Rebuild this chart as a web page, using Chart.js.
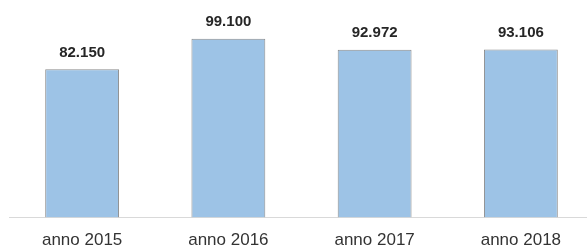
<!doctype html>
<meta charset="utf-8">
<style>
    html, body { margin: 0; padding: 0; overflow: hidden; background: #fff; }
    #wrap { width: 587px; height: 247px; overflow: hidden; }
</style>
<script src="https://cdn.jsdelivr.net/npm/chart.js@4/dist/chart.umd.min.js"></script>

<div id="wrap"><canvas id="chart" width="600" height="264"></canvas></div>

<script>
    const categories = ["anno 2015", "anno 2016", "anno 2017", "anno 2018"];
    const values = [82150, 99100, 92972, 93106];

    const fmt = v => String(v).replace(/\B(?=(\d{3})+(?!\d))/g, ".");

    // value labels above the bars
    const barLabels = {
        id: "barLabels",
        afterDatasetsDraw(chart) {
            const ctx = chart.ctx;
            ctx.save();
            ctx.font = "bold 15px 'Liberation Sans', Arial, sans-serif";
            ctx.fillStyle = "#262626";
            ctx.textAlign = "center";
            ctx.textBaseline = "bottom";
            chart.getDatasetMeta(0).data.forEach((bar, i) => {
                ctx.fillText(fmt(values[i]), bar.x, bar.y - 9);
            });
            ctx.restore();
        }
    };

    new Chart(document.getElementById("chart"), {
        type: "bar",
        data: {
            labels: categories,
            datasets: [{
                data: values,
                backgroundColor: "#9dc3e6",
                borderColor: "#8c8c8c",
                borderWidth: 1,
                barPercentage: 0.505,
                categoryPercentage: 1
            }]
        },
        options: {
            responsive: false,
            animation: false,
            layout: {padding: {top: 1, left: 9, right: 6, bottom: 0}},
            plugins: {
                legend: {display: false},
                tooltip: {enabled: false}
            },
            scales: {
                x: {
                    grid: {display: false, drawTicks: false},
                    border: {display: true, color: "#d9d9d9", width: 1},
                    ticks: {
                        padding: 13,
                        color: "#333",
                        font: {family: "'Liberation Sans', Arial, sans-serif", size: 17}
                    }
                },
                y: {
                    display: false,
                    min: 0,
                    max: 120000
                }
            }
        },
        plugins: [barLabels]
    });
</script>
